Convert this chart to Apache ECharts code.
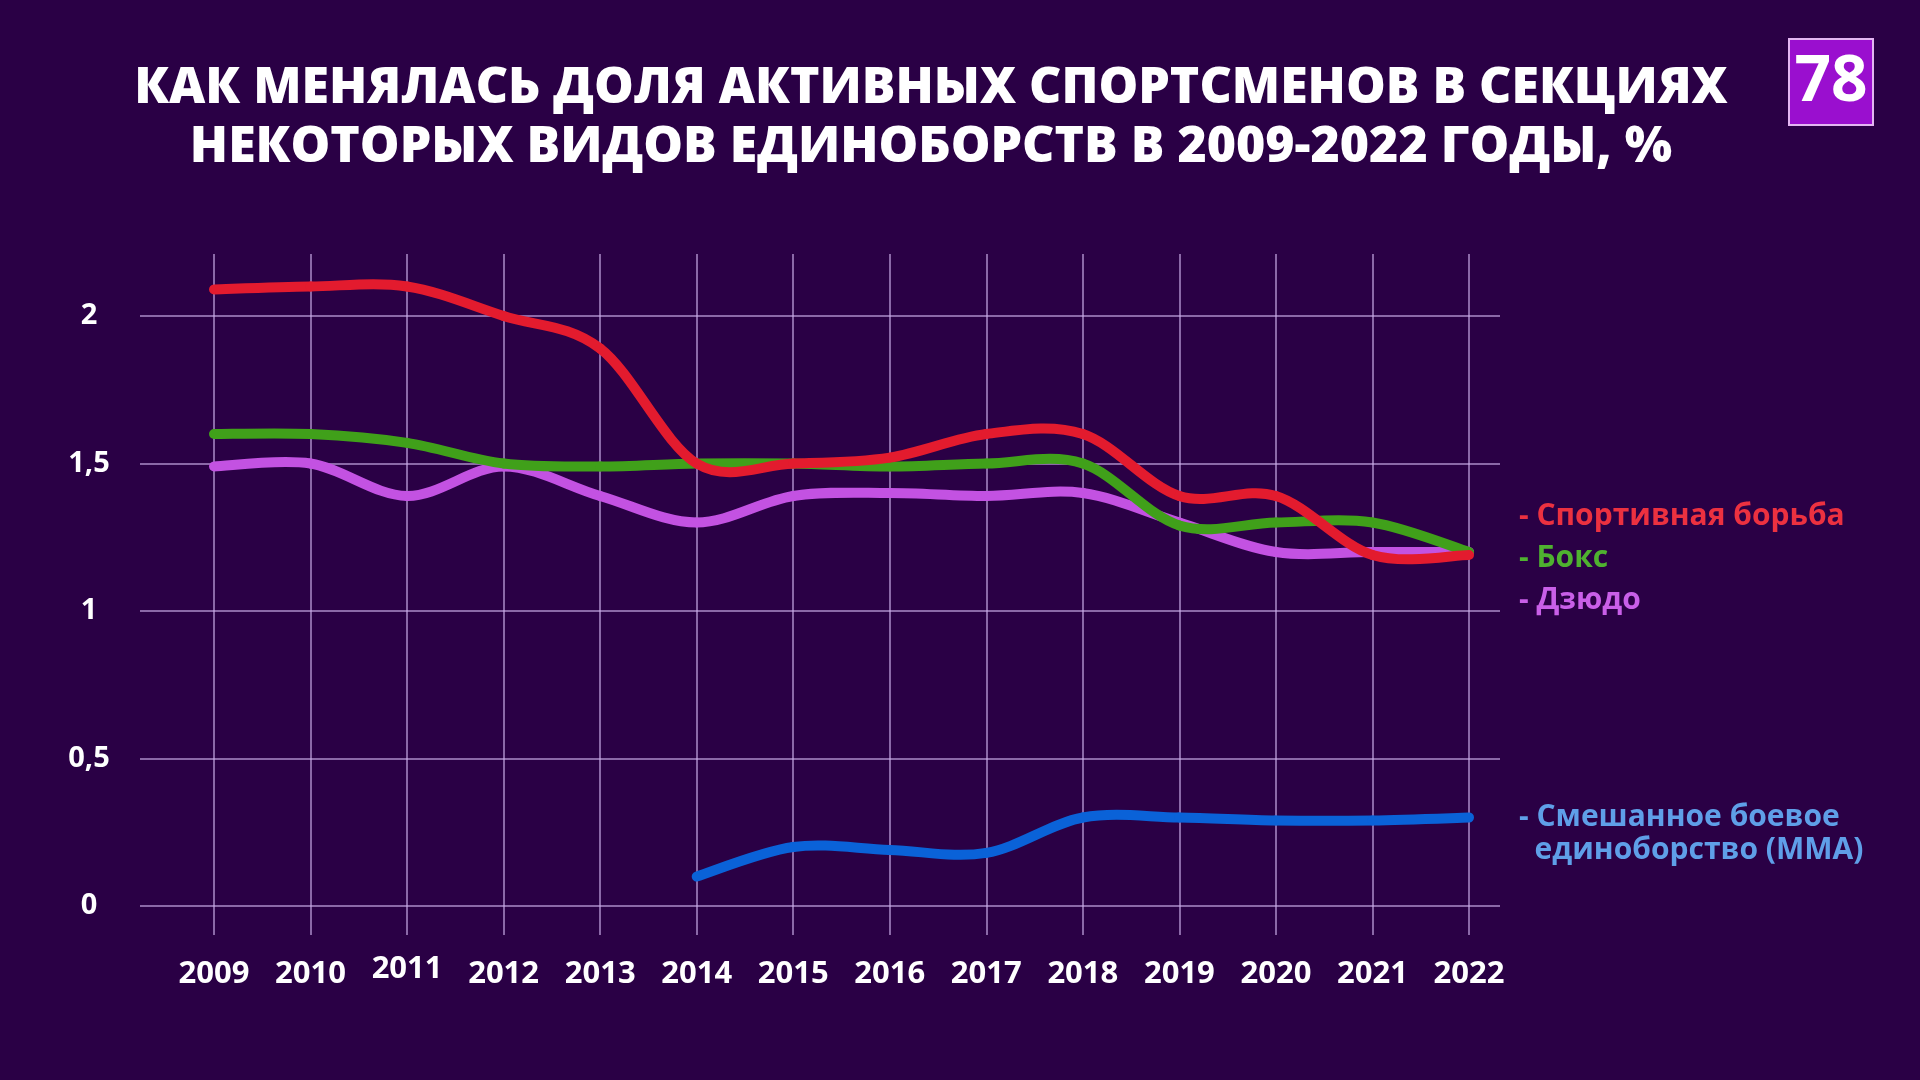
<!DOCTYPE html>
<html><head><meta charset="utf-8">
<script src="https://cdn.jsdelivr.net/npm/echarts@6/dist/echarts.min.js"></script>
<style>html,body{margin:0;padding:0;background:#2a0045;}#c{width:1920px;height:1080px;}</style>
</head><body><div id="c"></div>
<script>
const years = ['2009','2010','2011','2012','2013','2014','2015','2016','2017','2018','2019','2020','2021','2022'];
const yTicks = [0, 0.5, 1, 1.5, 2];
const wrestling = [2.09, 2.1, 2.1, 2.0, 1.89, 1.5, 1.5, 1.52, 1.6, 1.6, 1.39, 1.39, 1.19, 1.19];
const boxing = [1.6, 1.6, 1.57, 1.5, 1.49, 1.5, 1.5, 1.49, 1.5, 1.5, 1.29, 1.3, 1.3, 1.2];
const judo = [1.49, 1.5, 1.39, 1.49, 1.39, 1.3, 1.39, 1.4, 1.39, 1.4, 1.3, 1.2, 1.2, 1.2];
const mma = [null, null, null, null, null, 0.1, 0.2, 0.19, 0.18, 0.3, 0.3, 0.29, 0.29, 0.3];
const seriesNames = ['- Спортивная борьба', '- Бокс', '- Дзюдо', '- Смешанное боевое\n  единоборство (ММА)'];
const titleText = 'КАК МЕНЯЛАСЬ ДОЛЯ АКТИВНЫХ СПОРТСМЕНОВ В СЕКЦИЯХ\nНЕКОТОРЫХ ВИДОВ ЕДИНОБОРСТВ В 2009-2022 ГОДЫ, %';

const lineColors = ['#e31b2e', '#40a01a', '#c352e2', '#0a62d8'];
const textColors = ['#ec3140', '#4fb230', '#c95fe8', '#5f9fe8'];
const grid = 'rgba(205,175,235,0.6)';
const font = '"Open Sans", "Noto Sans", sans-serif';

const chart = echarts.init(document.getElementById('c'), null, {renderer: 'canvas'});

// Smooth (Catmull-Rom style) line drawn segment by segment from library coordinates
function mkLine(name, arr, ci) {
  const data = [];
  arr.forEach((v, i) => { if (v !== null) data.push([i, v]); });
  return {
    name, type: 'custom', xAxisIndex: 1, yAxisIndex: 1, z: 10 - ci,
    data,
    encode: {x: 0, y: 1},
    renderItem: function (params, api) {
      const i = api.value(0);
      const has = k => k >= 0 && k < arr.length && arr[k] !== null;
      if (!has(i + 1)) return null;
      const p1 = api.coord([i, arr[i]]);
      const p2 = api.coord([i + 1, arr[i + 1]]);
      const p0 = has(i - 1) ? api.coord([i - 1, arr[i - 1]]) : p1;
      const p3 = has(i + 2) ? api.coord([i + 2, arr[i + 2]]) : p2;
      return {
        type: 'bezierCurve',
        shape: {
          x1: p1[0], y1: p1[1], x2: p2[0], y2: p2[1],
          cpx1: p1[0] + (p2[0] - p0[0]) / 6, cpy1: p1[1] + (p2[1] - p0[1]) / 6,
          cpx2: p2[0] - (p3[0] - p1[0]) / 6, cpy2: p2[1] - (p3[1] - p1[1]) / 6
        },
        style: {stroke: lineColors[ci], lineWidth: 10, lineCap: 'round', fill: null}
      };
    }
  };
}
const option = {
  backgroundColor: '#2a0045',
  animation: false,
  title: {
    text: titleText, left: 926, top: 54, textAlign: 'center',
    textStyle: {color: '#ffffff', fontFamily: font, fontWeight: 800, fontSize: 50, lineHeight: 59}
  },
  grid: [
    {left: 140, right: 420, top: 316, bottom: 174},
    {left: 214, right: 451, top: 254, bottom: 145}
  ],
  xAxis: [
    {gridIndex: 0, type: 'value', min: 0, max: 1, show: false},
    {gridIndex: 1, type: 'category', data: years, boundaryGap: false,
      axisLine: {show: false}, axisTick: {show: false},
      splitLine: {show: true, interval: 0, lineStyle: {color: grid, width: 2}},
      axisLabel: {interval: 0, color: '#fff', fontFamily: font, fontWeight: 700, fontSize: 31, margin: 24,
        formatter: v => v === '2011' ? '{u|' + v + '}' : '{n|' + v + '}',
        rich: {
          n: {color: '#fff', fontFamily: font, fontWeight: 700, fontSize: 31, lineHeight: 31},
          u: {color: '#fff', fontFamily: font, fontWeight: 700, fontSize: 31, lineHeight: 21}
        }}}
  ],
  yAxis: [
    {gridIndex: 0, type: 'value', min: yTicks[0], max: yTicks[yTicks.length - 1], interval: 0.5,
      axisLine: {show: false}, axisTick: {show: false},
      splitLine: {show: true, lineStyle: {color: grid, width: 2}},
      axisLabel: {color: '#fff', fontFamily: font, fontWeight: 700, fontSize: 29, margin: 51, align: 'center',
        formatter: v => String(v).replace('.', ',')}},
    {gridIndex: 1, type: 'value', min: -0.0983, max: 2.2102, show: false, splitLine: {show: false}}
  ],
  series: [
    mkLine(seriesNames[0], wrestling, 0),
    mkLine(seriesNames[1], boxing, 1),
    mkLine(seriesNames[2], judo, 2),
    mkLine(seriesNames[3], mma, 3)
  ],
  graphic: [
    {type: 'rect', shape: {x: 1789, y: 39, width: 84, height: 86},
      style: {fill: '#9a0fcf', stroke: '#e3b6f2', lineWidth: 2}},
    {type: 'text', x: 1831, y: 83, style: {text: '78', fill: '#fff', font: '700 64px ' + font, align: 'center', verticalAlign: 'middle'}},
    {type: 'text', x: 1519, y: 516, style: {text: seriesNames[0], fill: textColors[0], font: '700 30px ' + font, verticalAlign: 'middle'}},
    {type: 'text', x: 1519, y: 558, style: {text: seriesNames[1], fill: textColors[1], font: '700 30px ' + font, verticalAlign: 'middle'}},
    {type: 'text', x: 1519, y: 600, style: {text: seriesNames[2], fill: textColors[2], font: '700 30px ' + font, verticalAlign: 'middle'}},
    {type: 'text', x: 1519, y: 801, style: {text: seriesNames[3], fill: textColors[3], font: '700 30px ' + font, verticalAlign: 'top', lineHeight: 33}}
  ]
};
chart.setOption(option);
</script></body></html>
